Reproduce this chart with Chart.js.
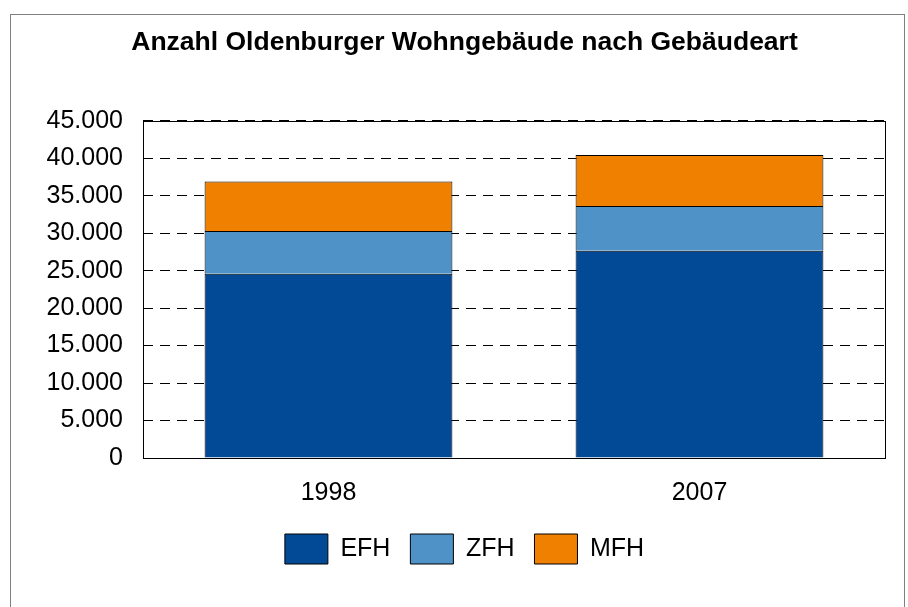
<!DOCTYPE html>
<html>
<head>
<meta charset="utf-8">
<title>Anzahl Oldenburger Wohngebäude nach Gebäudeart</title>
<script src="https://cdn.jsdelivr.net/npm/chart.js"></script>
<style>
    html, body { margin: 0; padding: 0; background: #fff; }
    #wrap { position: relative; width: 908px; height: 607px; }
</style>
</head>
<body>
<div id="wrap"><canvas id="chart" width="908" height="607"></canvas></div>
<script>
    // data
    const years = ["1998", "2007"];
    const efh = [24600, 27650];
    const zfh = [5700, 5970];
    const mfh = [6600, 6800];
    const yTicks = [0, 5000, 10000, 15000, 20000, 25000, 30000, 35000, 40000, 45000];

    const FONT = "'Liberation Sans', Arial, sans-serif";

    function fmt(v) {
        return String(v).replace(/\B(?=(\d{3})+(?!\d))/g, ".");
    }

    // outer frame + box round the plot area
    const frames = {
        id: "frames",
        beforeDraw(chart) {
            const c = chart.ctx;
            c.save();
            c.strokeStyle = "#808080";
            c.lineWidth = 1;
            c.strokeRect(10.5, 14.5, 894, 700);
            c.restore();
        },
        afterDatasetsDraw(chart) {
            const a = chart.chartArea, c = chart.ctx;
            c.save();
            c.strokeStyle = "#000";
            c.lineWidth = 1;
            c.strokeRect(Math.round(a.left) + 0.5, Math.round(a.top) + 0.5,
                Math.round(a.right - a.left), Math.round(a.bottom - a.top));
            c.restore();
        }
    };

    new Chart(document.getElementById("chart"), {
        type: "bar",
        data: {
            labels: years,
            datasets: [
                { label: "EFH", data: efh, backgroundColor: "#034A96" },
                { label: "ZFH", data: zfh, backgroundColor: "#4F92C8" },
                { label: "MFH", data: mfh, backgroundColor: "#EF8000" }
            ].map(d => Object.assign(d, {
                borderColor: "#000", borderWidth: 1,
                barPercentage: 0.668, categoryPercentage: 1.0
            }))
        },
        plugins: [frames],
        options: {
            responsive: false,
            animation: false,
            devicePixelRatio: 1,
            layout: { padding: { left: 44, right: 23, bottom: 33 } },
            plugins: {
                title: {
                    display: true,
                    text: "Anzahl Oldenburger Wohngebäude nach Gebäudeart",
                    color: "#000",
                    font: { family: FONT, size: 26.5, weight: "bold" },
                    padding: { top: 27, bottom: 62 }
                },
                legend: {
                    position: "bottom",
                    labels: {
                        color: "#000",
                        font: { family: FONT, size: 25 },
                        boxWidth: 43, boxHeight: 30,
                        padding: 20
                    }
                },
                tooltip: { enabled: false }
            },
            scales: {
                x: {
                    stacked: true,
                    afterFit: s => { s.height = 56; },
                    grid: { display: false, drawTicks: false },
                    border: { display: false },
                    ticks: { color: "#000", font: { family: FONT, size: 25 }, padding: 20 }
                },
                y: {
                    stacked: true,
                    min: 0, max: 45000,
                    afterBuildTicks: s => { s.ticks = yTicks.map(v => ({ value: v })); },
                    afterFit: s => { s.width = 99; },
                    grid: { color: "#000", lineWidth: 1, drawTicks: false },
                    border: { display: false, dash: [10, 7] },
                    ticks: {
                        color: "#000", font: { family: FONT, size: 25 }, padding: 20,
                        callback: v => fmt(v)
                    }
                }
            }
        }
    });
</script>
</body>
</html>
